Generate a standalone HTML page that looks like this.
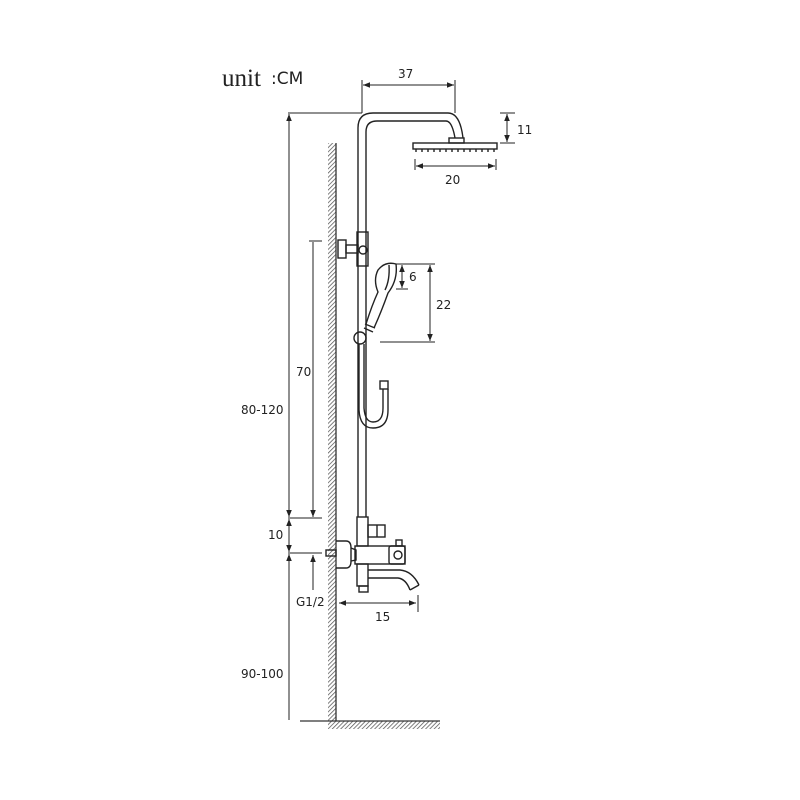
<!DOCTYPE html>
<html><head><style>
html,body{margin:0;padding:0;background:#fff;}
svg{display:block;}
text{font-family:"DejaVu Sans","Liberation Sans",sans-serif;font-size:12px;fill:#222;}
</style></head><body>
<svg width="800" height="800" viewBox="0 0 800 800" xmlns="http://www.w3.org/2000/svg">
<defs>
<pattern id="h" width="3" height="3" patternUnits="userSpaceOnUse" patternTransform="rotate(45)">
<rect width="3" height="3" fill="#fff"/><line x1="0" y1="0" x2="0" y2="3" stroke="#555" stroke-width="1.5"/>
</pattern>
<marker id="a" viewBox="0 0 10 10" refX="10" refY="5" markerWidth="7" markerHeight="7" orient="auto-start-reverse">
<path d="M0,1 L10,5 L0,9 z" fill="#222"/></marker>
</defs>
<text x="222" y="86" style="font-family:'Liberation Serif',serif;font-size:25px">unit</text>
<text x="271" y="84" style="font-size:17px">:CM</text>

<rect x="328" y="143" width="8" height="578" fill="url(#h)"/>
<line x1="336" y1="143" x2="336" y2="721" stroke="#333" stroke-width="1.3"/>
<rect x="328" y="721" width="112" height="8" fill="url(#h)"/>
<line x1="300" y1="721" x2="440" y2="721" stroke="#333" stroke-width="1.3"/>

<g fill="none" stroke="#222" stroke-width="1.4">
<path d="M358,517 V128 Q358,113 373,113 H448 Q460,113 463,138"/>
<path d="M366,517 V132 Q366,121 377,121 H446 Q452,121 455,138"/>
<rect x="449" y="138" width="15" height="5"/>
<rect x="413" y="143" width="84" height="6"/>
<path d="M416,149 v3 M422,149 v3 M428,149 v3 M434,149 v3 M440,149 v3 M446,149 v3 M452,149 v3 M458,149 v3 M464,149 v3 M470,149 v3 M476,149 v3 M482,149 v3 M488,149 v3 M494,149 v3"/>

<rect x="338" y="240" width="8" height="18"/>
<rect x="346" y="245" width="12" height="8"/>
<rect x="357" y="232" width="11" height="34"/>
<circle cx="363" cy="250" r="4"/>

<!-- handshower -->
<path d="M366,324 Q372,305 378,292 Q373,280 378,270 Q385,261 396,264 Q398,280 388,293 Q382,310 374,328"/>
<path d="M389,265 Q390,280 385,290"/>
<path d="M365,324 L375,328 M364,328 L373,332"/>
<circle cx="360" cy="338" r="6"/>
<path d="M359,344 V410 Q360,428 373,428 Q388,428 388,410 V389"/>
<path d="M364,344 V408 Q365,422 373,422 Q383,422 383,408 V389"/>
<rect x="380" y="381" width="8" height="8"/>

<rect x="357" y="517" width="11" height="29"/>
<rect x="368" y="525" width="17" height="12"/>
<line x1="377" y1="525" x2="377" y2="537"/>
<path d="M336,541 H346 Q351,541 351,548 V561 Q351,568 346,568 H336"/>
<path d="M351,548 L356,550 V560 L351,561"/>
<rect x="326" y="550" width="10" height="6"/>
<rect x="355" y="546" width="50" height="18"/>
<rect x="389" y="546" width="16" height="18" rx="2"/>
<circle cx="398" cy="555" r="4"/>
<rect x="396" y="540" width="6" height="6"/>
<rect x="357" y="564" width="11" height="22"/>
<rect x="359" y="586" width="9" height="6"/>
<path d="M368,570 H400 Q412,571 419,585"/>
<path d="M368,578 H398 Q406,579 410,590"/>
<path d="M410,590 L419,585"/>
</g>

<g stroke="#222" stroke-width="1" fill="none">
<line x1="362" y1="80" x2="362" y2="113"/>
<line x1="455" y1="80" x2="455" y2="113"/>
<line x1="363" y1="85" x2="454" y2="85" marker-start="url(#a)" marker-end="url(#a)"/>
<line x1="500" y1="113" x2="515" y2="113"/>
<line x1="500" y1="143" x2="515" y2="143"/>
<line x1="507" y1="114" x2="507" y2="142" marker-start="url(#a)" marker-end="url(#a)"/>
<line x1="415" y1="159" x2="415" y2="170"/>
<line x1="496" y1="159" x2="496" y2="170"/>
<line x1="416" y1="166" x2="495" y2="166" marker-start="url(#a)" marker-end="url(#a)"/>
<line x1="288" y1="113" x2="362" y2="113"/>
<line x1="289" y1="114" x2="289" y2="517" marker-start="url(#a)" marker-end="url(#a)"/>
<line x1="309" y1="241" x2="322" y2="241"/>
<line x1="313" y1="242" x2="313" y2="517" marker-end="url(#a)"/>
<line x1="288" y1="518" x2="322" y2="518"/>
<line x1="289" y1="519" x2="289" y2="552" marker-start="url(#a)" marker-end="url(#a)"/>
<line x1="288" y1="553" x2="322" y2="553"/>
<line x1="289" y1="554" x2="289" y2="720" marker-start="url(#a)"/>
<line x1="313" y1="590" x2="313" y2="555" marker-end="url(#a)"/>
<line x1="339" y1="603" x2="416" y2="603" marker-start="url(#a)" marker-end="url(#a)"/>
<line x1="418" y1="595" x2="418" y2="612"/>
<line x1="396" y1="264" x2="408" y2="264"/>
<line x1="396" y1="289" x2="408" y2="289"/>
<line x1="402" y1="265" x2="402" y2="288" marker-start="url(#a)" marker-end="url(#a)"/>
<line x1="398" y1="264" x2="435" y2="264"/>
<line x1="380" y1="342" x2="435" y2="342"/>
<line x1="430" y1="265" x2="430" y2="341" marker-start="url(#a)" marker-end="url(#a)"/>
</g>
<text x="398" y="78">37</text>
<text x="517" y="134">11</text>
<text x="445" y="184">20</text>
<text x="409" y="281">6</text>
<text x="436" y="309">22</text>
<text x="296" y="376">70</text>
<text x="241" y="414">80-120</text>
<text x="268" y="539">10</text>
<text x="296" y="606">G1/2</text>
<text x="375" y="621">15</text>
<text x="241" y="678">90-100</text>
</svg>
</body></html>
